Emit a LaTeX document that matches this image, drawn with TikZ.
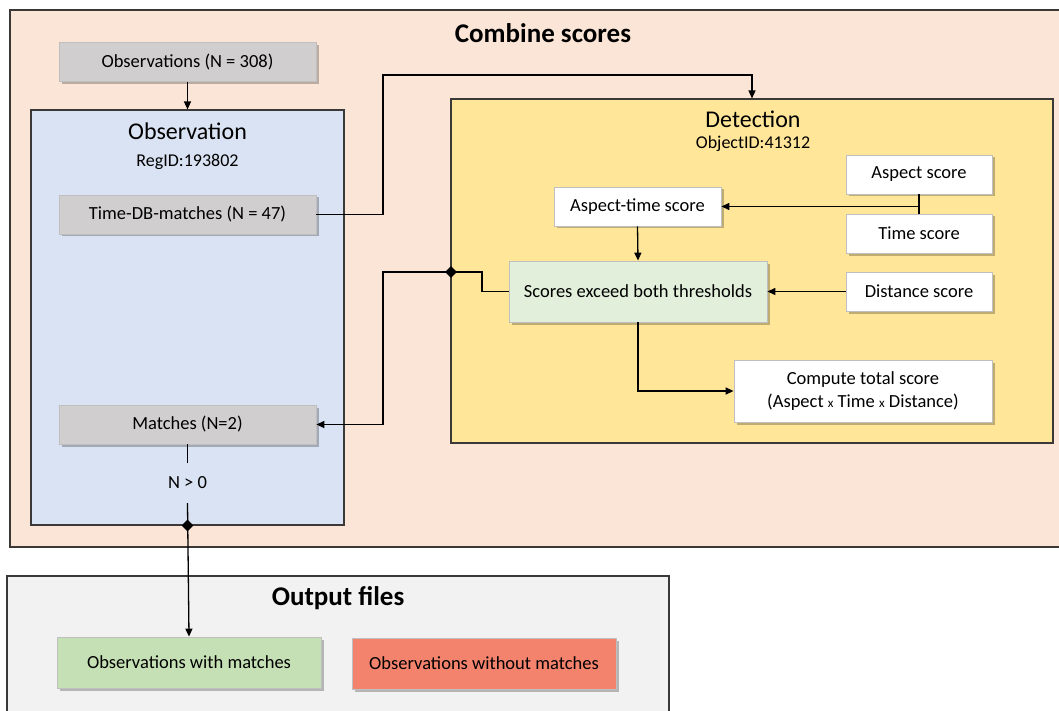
\documentclass[tikz,border=0pt]{standalone}
\usepackage{fontspec}
\setmainfont{Carlito}
\usetikzlibrary{arrows.meta,shadows,shapes.geometric}

\definecolor{combfill}{HTML}{FBE5D6}
\definecolor{obsfill}{HTML}{DAE3F3}
\definecolor{detfill}{HTML}{FFE699}
\definecolor{grayfill}{HTML}{D0CECE}
\definecolor{palegreen}{HTML}{E2EFDA}
\definecolor{outgreen}{HTML}{C5E0B4}
\definecolor{outred}{HTML}{F4836D}
\definecolor{outfill}{HTML}{F2F2F2}
\definecolor{framecol}{HTML}{3B3838}
\definecolor{thincol}{HTML}{BFBFBF}

\begin{document}
\begin{tikzpicture}[x=1pt,y=-1pt,
  container/.style={draw=framecol, line width=1.1pt, inner sep=0pt, rectangle},
  card/.style={draw=thincol, line width=0.8pt, inner sep=0pt, rectangle, align=center,
    font=\fontsize{18.5}{22}\selectfont,
    drop shadow={shadow xshift=2.5pt, shadow yshift=-2.5pt, fill=black, opacity=0.25}},
  graycard/.style={card, fill=grayfill, minimum width=257pt, minimum height=39pt},
  whitecard/.style={card, fill=white, minimum height=39pt},
  bigtitle/.style={font=\fontsize{27}{31}\selectfont\bfseries},
  subtitle/.style={font=\fontsize{24}{28}\selectfont},
  idtext/.style={font=\fontsize{18}{21}\selectfont},
  smallx/.style={},
  link/.style={line width=1.3pt, -{Triangle[length=8pt,width=7pt]}},
  plain/.style={line width=1.3pt},
  junction/.style={diamond, fill=black, inner sep=0pt, minimum size=12pt}]

\clip (0,0) rectangle (1059,711);
\useasboundingbox (0,0) rectangle (1059,711);

% combine-scores frame
\node[container, fill=combfill, minimum width=1054pt, minimum height=537pt] (combine) at (537,278.5) {};
\node[bigtitle] (combtitle) at (543,33) {Combine scores};

\node[graycard] (obs308) at (187.5,62) {Observations (N = 308)};

% observation panel
\node[container, fill=obsfill, minimum width=313pt, minimum height=415pt] (obsbox) at (187.5,317.5) {};
\node[subtitle] (obstitle) at (187.5,131) {Observation};
\node[idtext] (regid) at (187.5,162) {RegID:193802};
\node[graycard] (timedb) at (187.5,214.5) {Time-DB-matches (N = 47)};
\node[graycard] (matches) at (187.5,424.5) {Matches (N=2)};
\node[font=\fontsize{18.5}{22}\selectfont, minimum height=40pt, inner sep=0pt] (cond) at (187.5,483) {N > 0};

% detection panel
\node[container, fill=detfill, minimum width=602pt, minimum height=344pt] (detbox) at (752,271) {};
\node[subtitle] (dettitle) at (753,119) {Detection};
\node[idtext] (objid) at (753,144) {ObjectID:41312};
\node[whitecard, minimum width=167pt] (aspecttime) at (637.5,206.5) {Aspect-time score};
\node[whitecard, minimum width=146pt] (aspect) at (919,174.5) {Aspect score};
\node[whitecard, minimum width=146pt] (time) at (919,233.5) {Time score};
\node[whitecard, minimum width=146pt] (distance) at (919,291.5) {Distance score};
\node[card, fill=palegreen, minimum width=258pt, minimum height=61pt] (scores) at (638,291.5) {Scores exceed both thresholds};
\node[card, fill=white, minimum width=258pt, minimum height=62pt] (compute) at (863,391)
  {Compute total score\\[1pt](Aspect {\fontsize{13}{15}\selectfont x} Time {\fontsize{13}{15}\selectfont x} Distance)};

% output files panel
\node[container, fill=outfill, minimum width=662pt, minimum height=160pt] (outbox) at (338,656) {};
\node[bigtitle] (outtitle) at (338,598) {Output files};
\node[card, fill=outgreen, minimum width=264pt, minimum height=51pt] (obswith) at (189,662.5) {Observations with matches};
\node[card, fill=outred, minimum width=264pt, minimum height=51pt] (obswithout) at (484,663.5) {Observations without matches};

% routing points
\coordinate (up1) at (383,75);
\coordinate (sx) at (482,272);
\coordinate (jn) at (451,272);
\coordinate (elbow) at (383,272);

% connectors
\draw[link] (obs308.south) -- (obsbox.north);
\draw[link] (timedb.east) -| (up1) -| (detbox.north);
\draw[plain] (aspect.south) -- (time.north);
\draw[link] (aspect.south |- aspecttime.east) -- (aspecttime.east);
\draw[link] (aspecttime.south) -- (scores.north);
\draw[link] (distance.west) -- (scores.east);
\draw[link] (scores.south) |- (compute.west);
\draw[link] (scores.west) -| (sx) -- (jn) -- (elbow) |- (matches.east);
\node[junction] (jdiamond) at (jn) {};
\draw[plain] (matches.south) -- (cond.north);
\draw[link] (cond.south) -- (obswith.north);
\node[junction] (odiamond) at (obsbox.south) {};
\end{tikzpicture}
\end{document}
